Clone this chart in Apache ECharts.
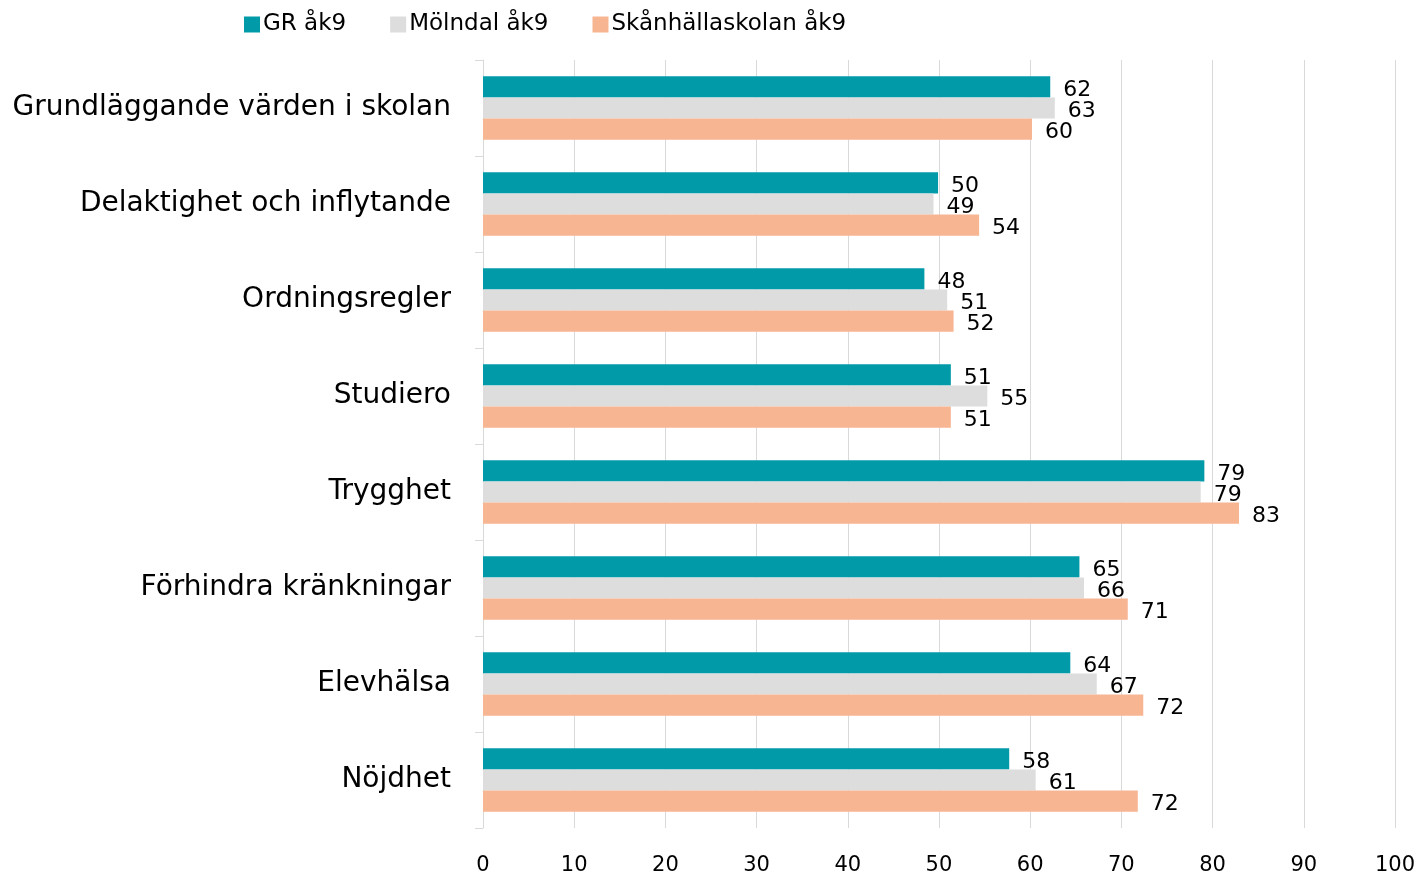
<!DOCTYPE html>
<html>
<head>
<meta charset="utf-8">
<script src="https://cdn.jsdelivr.net/npm/echarts@6/dist/echarts.min.js"></script>
<style>
html, body { margin: 0; padding: 0; background: #fff; }
#chart { width: 1418px; height: 876px; }
</style>
</head>
<body>
<div id="chart"></div>
<script>
const categories = [
    'Grundläggande värden i skolan',
    'Delaktighet och inflytande',
    'Ordningsregler',
    'Studiero',
    'Trygghet',
    'Förhindra kränkningar',
    'Elevhälsa',
    'Nöjdhet'
]
const grValues = [62.2, 49.9, 48.4, 51.3, 79.1, 65.4, 64.4, 57.7]
const molndalValues = [62.7, 49.4, 50.9, 55.3, 78.7, 65.9, 67.3, 60.6]
const skanValues = [60.2, 54.4, 51.6, 51.3, 82.9, 70.7, 72.4, 71.8]
const xTicks = [0, 10, 20, 30, 40, 50, 60, 70, 80, 90, 100]

const font = '"DejaVu Sans", "Noto Sans", sans-serif'

function barSeries(name, data, color) {
    return {
        name: name,
        type: 'bar',
        data: data,
        barGap: 0,
        barCategoryGap: '34%',
        itemStyle: { color: color },
        label: {
            show: true,
            position: 'right',
            distance: 13,
            offset: [0, 3],
            color: '#000',
            fontFamily: font,
            fontSize: 22,
            formatter: p => Math.round(p.value)
        }
    }
}

const option = {
    backgroundColor: '#fff',
    animation: false,
    legend: {
        top: 8,
        left: 239,
        itemWidth: 16,
        itemHeight: 16,
        itemGap: 44,
        icon: 'rect',
        textStyle: { fontFamily: font, fontSize: 23, color: '#000', padding: [0, 0, 0, -2] },
        data: ['GR åk9', 'Mölndal åk9', 'Skånhällaskolan åk9']
    },
    grid: {
        left: 483,
        right: 23,
        top: 60,
        bottom: 48
    },
    xAxis: {
        type: 'value',
        min: xTicks[0],
        max: xTicks[xTicks.length - 1],
        interval: 10,
        axisLine: { show: false },
        axisTick: { show: false },
        axisLabel: { fontFamily: font, fontSize: 21, color: '#000', margin: 27 },
        splitLine: { lineStyle: { color: '#d9d9d9', width: 1 } }
    },
    yAxis: {
        type: 'category',
        inverse: true,
        data: categories,
        axisLine: { lineStyle: { color: '#d9d9d9', width: 1 } },
        axisTick: { show: true, length: 8, lineStyle: { color: '#d9d9d9' } },
        axisLabel: { fontFamily: font, fontSize: 28, color: '#000', margin: 32 }
    },
    series: [
        barSeries('GR åk9', grValues, '#009aa8'),
        barSeries('Mölndal åk9', molndalValues, '#dddddd'),
        barSeries('Skånhällaskolan åk9', skanValues, '#f8b592')
    ]
}

const chart = echarts.init(document.getElementById('chart'))
chart.setOption(option)
</script>
</body>
</html>
